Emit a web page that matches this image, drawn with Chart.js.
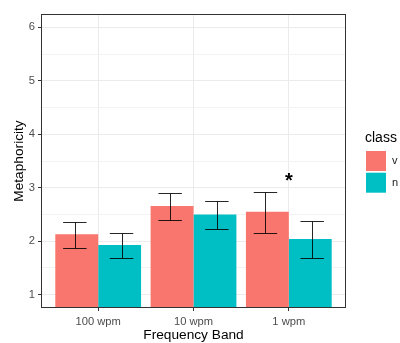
<!DOCTYPE html>
<html>
<head>
<meta charset="utf-8">
<script src="https://cdn.jsdelivr.net/npm/chart.js@4/dist/chart.umd.min.js"></script>
<style>
  body { margin: 0; background: #fff; }
  #wrap { width: 400px; height: 343px; }
</style>
</head>
<body>
<div id="wrap"><canvas id="barChartClass" width="400" height="343"></canvas></div>
<script>
/*
 * Dados
 * */
var categories = ['100 wpm', '10 wpm', '1 wpm'];
var classLabels = ['v', 'n'];
var classColors = ['#F8766D', '#00BFC4'];

var vMeans = [2.13, 2.66, 2.55];
var nMeans = [1.93, 2.50, 2.04];
var vLow = [1.875, 2.40, 2.155];
var vHigh = [2.35, 2.905, 2.925];
var nLow = [1.68, 2.22, 1.68];
var nHigh = [2.155, 2.75, 2.37];

var sigLabels = ['', '', '*'];
var sigY = [null, null, 3.18];

var yMajorTicks = [1, 2, 3, 4, 5, 6];
var yMinorTicks = [1.5, 2.5, 3.5, 4.5, 5.5];

var xTitle = 'Frequency Band';
var yTitle = 'Metaphoricity';
var legendTitle = 'class';

Chart.defaults.font.family = '"Liberation Sans", Arial, sans-serif';

function toPoints(values) {
    return values.map(function (v, i) { return { x: i + 1, y: v }; });
}

// dodge das barras de erro (um pouco maior que o das barras)
var errDodge = 0.245;
var capHalf = 0.123;

var errorBarPlugin = {
    id: 'errorBars',
    afterDatasetsDraw: function (chart) {
        var ctx = chart.ctx;
        var xs = chart.scales.x;
        var ys = chart.scales.y;
        var groups = [[vLow, vHigh, -1], [nLow, nHigh, 1]];

        ctx.save();
        ctx.strokeStyle = 'rgba(0,0,0,0.85)';
        ctx.lineWidth = 1;
        groups.forEach(function (g) {
            for (var i = 0; i < categories.length; i++) {
                var c = i + 1 + g[2] * errDodge;
                var x = Math.round(xs.getPixelForValue(c)) + 0.5;
                var xl = xs.getPixelForValue(c - capHalf);
                var xr = xs.getPixelForValue(c + capHalf);
                var yl = Math.round(ys.getPixelForValue(g[0][i])) + 0.5;
                var yh = Math.round(ys.getPixelForValue(g[1][i])) + 0.5;
                ctx.beginPath();
                ctx.moveTo(x, yl); ctx.lineTo(x, yh);
                ctx.moveTo(xl, yl); ctx.lineTo(xr, yl);
                ctx.moveTo(xl, yh); ctx.lineTo(xr, yh);
                ctx.stroke();
            }
        });

        // asterisco de significancia
        ctx.fillStyle = '#000';
        ctx.font = 'bold 20px "Liberation Sans", Arial, sans-serif';
        ctx.textAlign = 'center';
        ctx.textBaseline = 'middle';
        sigLabels.forEach(function (s, i) {
            if (s) {
                ctx.fillText(s, xs.getPixelForValue(i + 1), ys.getPixelForValue(sigY[i]) + 3);
            }
        });

        // borda do painel
        var a = chart.chartArea;
        ctx.strokeStyle = '#333333';
        ctx.lineWidth = 1;
        ctx.strokeRect(Math.round(a.left) + 0.5, Math.round(a.top) + 0.5,
            Math.round(a.right - a.left) - 1, Math.round(a.bottom - a.top) - 1);
        ctx.restore();
    }
};

var legendPlugin = {
    id: 'ggLegend',
    afterDraw: function (chart) {
        var ctx = chart.ctx;
        ctx.save();
        ctx.fillStyle = '#000';
        ctx.font = '14px "Liberation Sans", Arial, sans-serif';
        ctx.textAlign = 'left';
        ctx.textBaseline = 'middle';
        ctx.fillText(legendTitle, 365, 138);

        ctx.font = '11px "Liberation Sans", Arial, sans-serif';
        chart.data.datasets.forEach(function (ds, i) {
            var y = 151 + i * 21.7;
            ctx.fillStyle = ds.backgroundColor;
            ctx.fillRect(366, y, 20, 20);
            ctx.fillStyle = '#1a1a1a';
            ctx.fillText(ds.label, 392, y + 10);
        });
        ctx.restore();
    }
};

function isMajor(v) {
    return yMajorTicks.indexOf(v) >= 0;
}

var chartData = {
    datasets: [
        { label: classLabels[0], data: toPoints(vMeans), backgroundColor: classColors[0] },
        { label: classLabels[1], data: toPoints(nMeans), backgroundColor: classColors[1] }
    ]
};

var options = {
    responsive: false,
    animation: false,
    layout: { padding: { left: 0, top: 14, right: 54, bottom: 0 } },
    datasets: { bar: { categoryPercentage: 0.9, barPercentage: 1.0, borderWidth: 0 } },
    plugins: { legend: { display: false }, tooltip: { enabled: false } },
    scales: {
        x: {
            type: 'linear',
            min: 0.4,
            max: 3.6,
            offset: false,
            afterBuildTicks: function (scale) {
                scale.ticks = categories.map(function (c, i) { return { value: i + 1 }; });
            },
            afterFit: function (scale) { scale.height = 35; },
            grid: { offset: false, color: '#EBEBEB', lineWidth: 1, tickLength: 3, tickColor: '#333333' },
            border: { display: false },
            ticks: {
                color: '#4D4D4D',
                font: { size: 11.2 },
                padding: 4,
                maxRotation: 0,
                autoSkip: false,
                callback: function (v) { return categories[v - 1]; }
            },
            title: { display: true, text: xTitle, color: '#000', font: { size: 13.7 }, padding: { top: 0, bottom: 0 } }
        },
        y: {
            min: 0.75,
            max: 6.25,
            afterBuildTicks: function (scale) {
                scale.ticks = yMajorTicks.concat(yMinorTicks).sort(function (a, b) { return a - b; })
                    .map(function (v) { return { value: v }; });
            },
            afterFit: function (scale) { scale.width = 41; },
            grid: {
                color: function (c) { return isMajor(c.tick.value) ? '#EBEBEB' : '#F3F3F3'; },
                lineWidth: 1,
                tickLength: 3,
                tickColor: function (c) { return isMajor(c.tick.value) ? '#333333' : 'rgba(0,0,0,0)'; }
            },
            border: { display: false },
            ticks: {
                color: '#4D4D4D',
                font: { size: 11.2 },
                padding: 3,
                autoSkip: false,
                callback: function (v) { return isMajor(v) ? String(v) : ''; }
            },
            title: { display: true, text: yTitle, color: '#000', font: { size: 13.7 }, padding: { top: 11, bottom: 0 } }
        }
    }
};

var canvas = document.getElementById('barChartClass');
var chart = new Chart(canvas.getContext('2d'), {
    type: 'bar',
    data: chartData,
    options: options,
    plugins: [errorBarPlugin, legendPlugin]
});
</script>
</body>
</html>
